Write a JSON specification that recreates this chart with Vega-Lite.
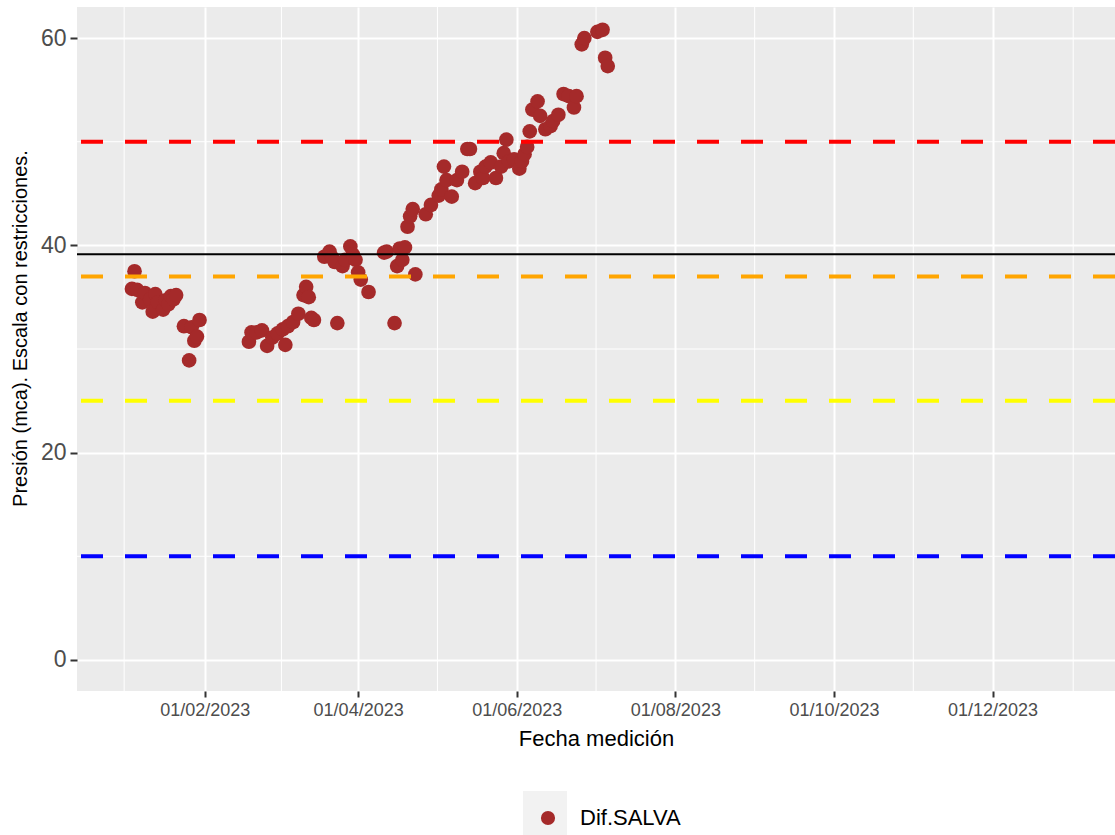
{
  "$schema": "https://vega.github.io/schema/vega-lite/v6.json",
  "width": 1038,
  "height": 684,
  "autosize": {"type": "none"},
  "padding": {"left": 77, "top": 7, "right": 0, "bottom": 144},
  "background": "white",
  "config": {
    "view": {"fill": "#EBEBEB", "stroke": null},
    "font": "Liberation Sans"
  },
  "datasets": {
    "medidas": [
      {"fecha": "2023-01-04", "valor": 35.8, "serie": "Dif.SALVA"},
      {"fecha": "2023-01-05", "valor": 37.5, "serie": "Dif.SALVA"},
      {"fecha": "2023-01-06", "valor": 35.7, "serie": "Dif.SALVA"},
      {"fecha": "2023-01-08", "valor": 34.5, "serie": "Dif.SALVA"},
      {"fecha": "2023-01-09", "valor": 35.4, "serie": "Dif.SALVA"},
      {"fecha": "2023-01-11", "valor": 34.8, "serie": "Dif.SALVA"},
      {"fecha": "2023-01-12", "valor": 33.6, "serie": "Dif.SALVA"},
      {"fecha": "2023-01-13", "valor": 35.3, "serie": "Dif.SALVA"},
      {"fecha": "2023-01-14", "valor": 34.5, "serie": "Dif.SALVA"},
      {"fecha": "2023-01-16", "valor": 33.8, "serie": "Dif.SALVA"},
      {"fecha": "2023-01-17", "valor": 34.7, "serie": "Dif.SALVA"},
      {"fecha": "2023-01-18", "valor": 34.3, "serie": "Dif.SALVA"},
      {"fecha": "2023-01-19", "valor": 35.1, "serie": "Dif.SALVA"},
      {"fecha": "2023-01-20", "valor": 34.8, "serie": "Dif.SALVA"},
      {"fecha": "2023-01-21", "valor": 35.2, "serie": "Dif.SALVA"},
      {"fecha": "2023-01-24", "valor": 32.2, "serie": "Dif.SALVA"},
      {"fecha": "2023-01-26", "valor": 28.9, "serie": "Dif.SALVA"},
      {"fecha": "2023-01-27", "valor": 32.1, "serie": "Dif.SALVA"},
      {"fecha": "2023-01-28", "valor": 30.8, "serie": "Dif.SALVA"},
      {"fecha": "2023-01-29", "valor": 31.2, "serie": "Dif.SALVA"},
      {"fecha": "2023-01-30", "valor": 32.8, "serie": "Dif.SALVA"},
      {"fecha": "2023-02-18", "valor": 30.7, "serie": "Dif.SALVA"},
      {"fecha": "2023-02-19", "valor": 31.6, "serie": "Dif.SALVA"},
      {"fecha": "2023-02-21", "valor": 31.6, "serie": "Dif.SALVA"},
      {"fecha": "2023-02-23", "valor": 31.8, "serie": "Dif.SALVA"},
      {"fecha": "2023-02-25", "valor": 30.3, "serie": "Dif.SALVA"},
      {"fecha": "2023-02-27", "valor": 31.1, "serie": "Dif.SALVA"},
      {"fecha": "2023-03-01", "valor": 31.5, "serie": "Dif.SALVA"},
      {"fecha": "2023-03-03", "valor": 31.9, "serie": "Dif.SALVA"},
      {"fecha": "2023-03-04", "valor": 30.4, "serie": "Dif.SALVA"},
      {"fecha": "2023-03-05", "valor": 32.2, "serie": "Dif.SALVA"},
      {"fecha": "2023-03-07", "valor": 32.6, "serie": "Dif.SALVA"},
      {"fecha": "2023-03-09", "valor": 33.4, "serie": "Dif.SALVA"},
      {"fecha": "2023-03-11", "valor": 35.2, "serie": "Dif.SALVA"},
      {"fecha": "2023-03-12", "valor": 36.0, "serie": "Dif.SALVA"},
      {"fecha": "2023-03-13", "valor": 35.0, "serie": "Dif.SALVA"},
      {"fecha": "2023-03-14", "valor": 33.0, "serie": "Dif.SALVA"},
      {"fecha": "2023-03-15", "valor": 32.8, "serie": "Dif.SALVA"},
      {"fecha": "2023-03-19", "valor": 38.9, "serie": "Dif.SALVA"},
      {"fecha": "2023-03-21", "valor": 39.4, "serie": "Dif.SALVA"},
      {"fecha": "2023-03-22", "valor": 38.8, "serie": "Dif.SALVA"},
      {"fecha": "2023-03-23", "valor": 38.4, "serie": "Dif.SALVA"},
      {"fecha": "2023-03-24", "valor": 32.5, "serie": "Dif.SALVA"},
      {"fecha": "2023-03-26", "valor": 38.0, "serie": "Dif.SALVA"},
      {"fecha": "2023-03-27", "valor": 38.6, "serie": "Dif.SALVA"},
      {"fecha": "2023-03-29", "valor": 39.9, "serie": "Dif.SALVA"},
      {"fecha": "2023-03-30", "valor": 39.1, "serie": "Dif.SALVA"},
      {"fecha": "2023-03-31", "valor": 38.6, "serie": "Dif.SALVA"},
      {"fecha": "2023-04-01", "valor": 37.4, "serie": "Dif.SALVA"},
      {"fecha": "2023-04-02", "valor": 36.7, "serie": "Dif.SALVA"},
      {"fecha": "2023-04-05", "valor": 35.5, "serie": "Dif.SALVA"},
      {"fecha": "2023-04-11", "valor": 39.3, "serie": "Dif.SALVA"},
      {"fecha": "2023-04-12", "valor": 39.4, "serie": "Dif.SALVA"},
      {"fecha": "2023-04-15", "valor": 32.5, "serie": "Dif.SALVA"},
      {"fecha": "2023-04-16", "valor": 38.0, "serie": "Dif.SALVA"},
      {"fecha": "2023-04-17", "valor": 39.7, "serie": "Dif.SALVA"},
      {"fecha": "2023-04-18", "valor": 38.6, "serie": "Dif.SALVA"},
      {"fecha": "2023-04-19", "valor": 39.8, "serie": "Dif.SALVA"},
      {"fecha": "2023-04-20", "valor": 41.8, "serie": "Dif.SALVA"},
      {"fecha": "2023-04-21", "valor": 42.8, "serie": "Dif.SALVA"},
      {"fecha": "2023-04-22", "valor": 43.5, "serie": "Dif.SALVA"},
      {"fecha": "2023-04-23", "valor": 37.2, "serie": "Dif.SALVA"},
      {"fecha": "2023-04-27", "valor": 43.0, "serie": "Dif.SALVA"},
      {"fecha": "2023-04-29", "valor": 43.9, "serie": "Dif.SALVA"},
      {"fecha": "2023-05-02", "valor": 44.8, "serie": "Dif.SALVA"},
      {"fecha": "2023-05-03", "valor": 45.4, "serie": "Dif.SALVA"},
      {"fecha": "2023-05-04", "valor": 47.6, "serie": "Dif.SALVA"},
      {"fecha": "2023-05-05", "valor": 46.3, "serie": "Dif.SALVA"},
      {"fecha": "2023-05-07", "valor": 44.7, "serie": "Dif.SALVA"},
      {"fecha": "2023-05-09", "valor": 46.3, "serie": "Dif.SALVA"},
      {"fecha": "2023-05-11", "valor": 47.1, "serie": "Dif.SALVA"},
      {"fecha": "2023-05-13", "valor": 49.3, "serie": "Dif.SALVA"},
      {"fecha": "2023-05-14", "valor": 49.3, "serie": "Dif.SALVA"},
      {"fecha": "2023-05-16", "valor": 46.0, "serie": "Dif.SALVA"},
      {"fecha": "2023-05-18", "valor": 47.1, "serie": "Dif.SALVA"},
      {"fecha": "2023-05-19", "valor": 46.5, "serie": "Dif.SALVA"},
      {"fecha": "2023-05-20", "valor": 47.6, "serie": "Dif.SALVA"},
      {"fecha": "2023-05-22", "valor": 48.0, "serie": "Dif.SALVA"},
      {"fecha": "2023-05-24", "valor": 46.5, "serie": "Dif.SALVA"},
      {"fecha": "2023-05-26", "valor": 47.6, "serie": "Dif.SALVA"},
      {"fecha": "2023-05-27", "valor": 48.9, "serie": "Dif.SALVA"},
      {"fecha": "2023-05-28", "valor": 50.2, "serie": "Dif.SALVA"},
      {"fecha": "2023-05-29", "valor": 48.1, "serie": "Dif.SALVA"},
      {"fecha": "2023-05-31", "valor": 48.3, "serie": "Dif.SALVA"},
      {"fecha": "2023-06-02", "valor": 47.4, "serie": "Dif.SALVA"},
      {"fecha": "2023-06-03", "valor": 48.1, "serie": "Dif.SALVA"},
      {"fecha": "2023-06-04", "valor": 48.8, "serie": "Dif.SALVA"},
      {"fecha": "2023-06-05", "valor": 49.5, "serie": "Dif.SALVA"},
      {"fecha": "2023-06-06", "valor": 51.0, "serie": "Dif.SALVA"},
      {"fecha": "2023-06-07", "valor": 53.1, "serie": "Dif.SALVA"},
      {"fecha": "2023-06-09", "valor": 53.9, "serie": "Dif.SALVA"},
      {"fecha": "2023-06-10", "valor": 52.5, "serie": "Dif.SALVA"},
      {"fecha": "2023-06-12", "valor": 51.2, "serie": "Dif.SALVA"},
      {"fecha": "2023-06-14", "valor": 51.5, "serie": "Dif.SALVA"},
      {"fecha": "2023-06-15", "valor": 52.0, "serie": "Dif.SALVA"},
      {"fecha": "2023-06-17", "valor": 52.6, "serie": "Dif.SALVA"},
      {"fecha": "2023-06-19", "valor": 54.6, "serie": "Dif.SALVA"},
      {"fecha": "2023-06-21", "valor": 54.4, "serie": "Dif.SALVA"},
      {"fecha": "2023-06-23", "valor": 53.3, "serie": "Dif.SALVA"},
      {"fecha": "2023-06-24", "valor": 54.4, "serie": "Dif.SALVA"},
      {"fecha": "2023-06-26", "valor": 59.4, "serie": "Dif.SALVA"},
      {"fecha": "2023-06-27", "valor": 60.0, "serie": "Dif.SALVA"},
      {"fecha": "2023-07-02", "valor": 60.6, "serie": "Dif.SALVA"},
      {"fecha": "2023-07-04", "valor": 60.8, "serie": "Dif.SALVA"},
      {"fecha": "2023-07-05", "valor": 58.1, "serie": "Dif.SALVA"},
      {"fecha": "2023-07-06", "valor": 57.3, "serie": "Dif.SALVA"}
    ],
    "rejillaX": [
      {"fecha": "2023-01-01T00:00:00Z"},
      {"fecha": "2023-03-02T12:00:00Z"},
      {"fecha": "2023-05-01T12:00:00Z"},
      {"fecha": "2023-07-01T12:00:00Z"},
      {"fecha": "2023-08-31T12:00:00Z"},
      {"fecha": "2023-10-31T12:00:00Z"},
      {"fecha": "2024-01-01T00:00:00Z"}
    ],
    "rejillaY": [{"valor": 10}, {"valor": 30}, {"valor": 50}],
    "umbrales": [
      {"umbral": "rojo", "valor": 50},
      {"umbral": "naranja", "valor": 37},
      {"umbral": "amarillo", "valor": 25},
      {"umbral": "azul", "valor": 10}
    ],
    "referencia": [{"valor": 39.15}],
    "vacio": []
  },
  "encoding": {
    "x": {
      "field": "fecha",
      "type": "temporal",
      "scale": {
        "type": "utc",
        "domain": [
          {"year": 2022, "month": 12, "date": 13, "hours": 21, "utc": true},
          {"year": 2024, "month": 1, "date": 17, "hours": 2, "utc": true}
        ]
      },
      "axis": {
        "values": [
          {"year": 2023, "month": 2, "date": 1, "utc": true},
          {"year": 2023, "month": 4, "date": 1, "utc": true},
          {"year": 2023, "month": 6, "date": 1, "utc": true},
          {"year": 2023, "month": 8, "date": 1, "utc": true},
          {"year": 2023, "month": 10, "date": 1, "utc": true},
          {"year": 2023, "month": 12, "date": 1, "utc": true}
        ],
        "labelExpr": "utcFormat(datum.value, '%d/%m/%Y')",
        "title": "Fecha medición",
        "grid": true,
        "gridColor": "white",
        "gridWidth": 2,
        "domain": false,
        "tickColor": "#333333",
        "tickSize": 6,
        "tickWidth": 2,
        "labelColor": "#4D4D4D",
        "labelFontSize": 18,
        "labelPadding": 4,
        "labelFlush": false,
        "labelOverlap": false,
        "titleFontSize": 22,
        "titleFontWeight": "normal",
        "titleColor": "black",
        "titleBaseline": "middle",
        "titleY": 47
      }
    },
    "y": {
      "field": "valor",
      "type": "quantitative",
      "scale": {"domain": [-3, 63], "nice": false, "zero": false},
      "axis": {
        "values": [0, 20, 40, 60],
        "title": "Presión (mca). Escala con restricciones.",
        "grid": true,
        "gridColor": "white",
        "gridWidth": 2,
        "domain": false,
        "tickColor": "#333333",
        "tickSize": 7,
        "tickWidth": 2,
        "labelColor": "#4D4D4D",
        "labelFontSize": 23,
        "labelPadding": 4,
        "labelFlush": false,
        "titleFontSize": 20,
        "titleFontWeight": "normal",
        "titleColor": "black",
        "titleAngle": -90,
        "titleAlign": "center",
        "titleBaseline": "middle",
        "titleX": -57,
        "titleY": 321
      }
    }
  },
  "layer": [
    {
      "data": {"name": "rejillaX"},
      "mark": {"type": "rule", "color": "white", "strokeWidth": 1},
      "encoding": {"y": null}
    },
    {
      "data": {"name": "rejillaY"},
      "mark": {"type": "rule", "color": "white", "strokeWidth": 1},
      "encoding": {"x": null}
    },
    {
      "data": {"name": "vacio"},
      "mark": {"type": "point", "color": "#F2F2F2", "filled": true, "opacity": 1, "size": 1936},
      "encoding": {
        "shape": {
          "field": "clave",
          "type": "nominal",
          "scale": {"domain": [" "], "range": ["square"]},
          "legend": {
            "orient": "none",
            "legendX": 446,
            "legendY": 784,
            "title": null,
            "padding": 0,
            "symbolSize": 1936,
            "symbolFillColor": "#F2F2F2",
            "symbolStrokeColor": "#F2F2F2",
            "symbolStrokeWidth": 0,
            "symbolOpacity": 1,
            "labelFontSize": 1,
            "labelOpacity": 0,
            "zindex": 1
          }
        }
      }
    },
    {
      "data": {"name": "medidas"},
      "mark": {"type": "circle", "size": 215, "opacity": 1},
      "encoding": {
        "color": {
          "field": "serie",
          "type": "nominal",
          "scale": {"domain": ["Dif.SALVA"], "range": ["#A52A2A"]},
          "legend": {
            "orient": "none",
            "legendX": 460,
            "legendY": 800,
            "title": null,
            "padding": 0,
            "symbolType": "circle",
            "symbolSize": 200,
            "symbolOpacity": 1,
            "labelFontSize": 22,
            "labelColor": "black",
            "labelOffset": 21,
            "zindex": 2
          }
        }
      }
    },
    {
      "data": {"name": "umbrales"},
      "mark": {"type": "rule", "strokeDash": [22, 22], "strokeWidth": 4},
      "encoding": {
        "x": null,
        "stroke": {
          "field": "umbral",
          "type": "nominal",
          "scale": {
            "domain": ["rojo", "naranja", "amarillo", "azul"],
            "range": ["#FF0000", "#FFA500", "#FFFF00", "#0000FF"]
          },
          "legend": null
        }
      }
    },
    {
      "data": {"name": "referencia"},
      "mark": {"type": "rule", "color": "black", "strokeWidth": 2},
      "encoding": {"x": null}
    }
  ]
}
